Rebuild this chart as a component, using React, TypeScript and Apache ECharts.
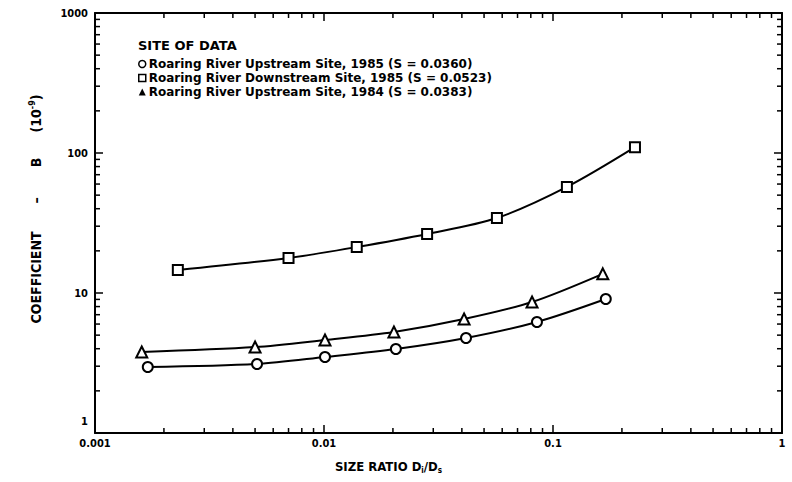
import React, { useEffect, useRef } from "react";
import * as echarts from "echarts";

const xTickValues = [0.001, 0.01, 0.1, 1];
const xTickLabels = ["0.001", "0.01", "0.1", "1"];
const yTickValues = [1, 10, 100, 1000];
const yTickLabels = ["1", "10", "100", "1000"];

const xMinorTicks = [
  0.002, 0.003, 0.004, 0.005, 0.006, 0.007, 0.008, 0.009,
  0.02, 0.03, 0.04, 0.05, 0.06, 0.07, 0.08, 0.09,
  0.2, 0.3, 0.4, 0.5, 0.6, 0.7, 0.8, 0.9,
];
const yMinorTicks = [
  2, 3, 4, 5, 6, 7, 8, 9,
  20, 30, 40, 50, 60, 70, 80, 90,
  200, 300, 400, 500, 600, 700, 800, 900,
];

const seriesNames = [
  "Roaring River Upstream Site, 1985 (S = 0.0360)",
  "Roaring River Downstream Site, 1985 (S = 0.0523)",
  "Roaring River Upstream Site, 1984 (S = 0.0383)",
];

const up1985X = [0.0017, 0.0051, 0.0101, 0.0206, 0.0417, 0.0851, 0.17];
const up1985Y = [2.96, 3.11, 3.49, 3.98, 4.77, 6.21, 9.06];
const down1985X = [0.0023, 0.007, 0.0139, 0.0282, 0.0569, 0.115, 0.228];
const down1985Y = [14.6, 17.8, 21.3, 26.4, 34.3, 57.2, 110];
const up1984X = [0.0016, 0.005, 0.0101, 0.0202, 0.0409, 0.081, 0.165];
const up1984Y = [3.79, 4.11, 4.62, 5.27, 6.52, 8.62, 13.7];

const FONT = "DejaVu Sans";
const FONT_C = "DejaVu Sans Condensed, DejaVu Sans";

function zip(xs: number[], ys: number[]) {
  return xs.map((x, i) => [x, ys[i]]);
}

function labelIndex(values: number[], v: number) {
  let best = 0;
  let bd = Infinity;
  values.forEach((t, i) => {
    const d = Math.abs(Math.log10(t) - Math.log10(v));
    if (d < bd) {
      bd = d;
      best = i;
    }
  });
  return bd < 0.01 ? best : -1;
}

export default function App() {
  const ref = useRef<HTMLDivElement>(null);
  useEffect(() => {
    if (!ref.current) return;
    const chart = echarts.init(ref.current, undefined, { renderer: "svg" });
    const xMin = xTickValues[0];
    const xMax = xTickValues[xTickValues.length - 1];
    const yMin = yTickValues[0];
    const yMax = yTickValues[yTickValues.length - 1];
    const lineSeries = (name: string, data: number[][], symbol: string) => ({
      name,
      type: "line",
      data,
      smooth: 0.3,
      symbol,
      symbolSize: symbol === "triangle" ? 11 : 10,
      showSymbol: true,
      lineStyle: { color: "#000", width: 2 },
      itemStyle: { color: "#fff", borderColor: "#000", borderWidth: 2 },
      xAxisIndex: 0,
      yAxisIndex: 0,
      z: 3,
    });
    const tickStyle = { stroke: "#000", lineWidth: 1.5 };
    const labelFont = { fontFamily: FONT_C, fontWeight: "bold", fontSize: 11, color: "#000" };
    const option: any = {
      animation: false,
      backgroundColor: "#fff",
      title: {
        text: "SITE OF DATA",
        left: 133,
        top: 34,
        textStyle: { fontFamily: FONT, fontWeight: "bold", fontSize: 13, color: "#000" },
      },
      legend: {
        orient: "vertical",
        left: 133,
        top: 52,
        itemWidth: 7,
        itemHeight: 7,
        itemGap: 0,
        selectedMode: false,
        textStyle: {
          fontFamily: FONT,
          fontWeight: "bold",
          fontSize: 12,
          color: "#000",
          lineHeight: 14,
          padding: [0, 0, 0, -2],
        },
        data: [
          { name: seriesNames[0], icon: "circle", itemStyle: { color: "#fff", borderColor: "#000", borderWidth: 1.5 } },
          { name: seriesNames[1], icon: "rect", itemStyle: { color: "#fff", borderColor: "#000", borderWidth: 1.5 } },
          { name: seriesNames[2], icon: "triangle", itemStyle: { color: "#000", borderColor: "#000", borderWidth: 0 } },
        ],
      },
      grid: { left: 95, top: 13, width: 687, height: 420, containLabel: false },
      xAxis: [
        {
          type: "log",
          logBase: 10,
          min: xMin,
          max: xMax,
          position: "bottom",
          name: "SIZE RATIO D{sub|i}/D{sub|s}",
          nameLocation: "middle",
          nameGap: 25,
          nameTextStyle: {
            fontFamily: FONT_C,
            fontWeight: "bold",
            fontSize: 13,
            color: "#000",
            lineHeight: 16,
            padding: [0, 100, 0, 0],
            rich: { sub: { fontFamily: FONT_C, fontWeight: "bold", fontSize: 8, verticalAlign: "bottom", lineHeight: 16, color: "#000" } },
          },
          axisLine: { show: true, lineStyle: { color: "#000", width: 2 } },
          axisTick: { show: true, inside: true, length: 8, lineStyle: { color: "#000", width: 1.5 } },
          axisLabel: {
            show: true,
            margin: 5,
            ...labelFont,
            formatter: (v: number) => {
              const i = labelIndex(xTickValues, v);
              return i < 0 ? "" : xTickLabels[i];
            },
          },
          splitLine: { show: false },
        },
        {
          type: "log",
          logBase: 10,
          min: xMin,
          max: xMax,
          position: "top",
          axisLine: { show: true, lineStyle: { color: "#000", width: 2 } },
          axisTick: { show: true, inside: true, length: 8, lineStyle: { color: "#000", width: 1.5 } },
          axisLabel: { show: false },
          splitLine: { show: false },
        },
      ],
      yAxis: [
        {
          type: "log",
          logBase: 10,
          min: yMin,
          max: yMax,
          position: "left",
          name: "COEFFICIENT{d|–}{b|B}(10{sup|-9})",
          nameLocation: "middle",
          nameGap: 50,
          nameRotate: 90,
          nameTextStyle: {
            fontFamily: FONT_C,
            fontWeight: "bold",
            fontSize: 14,
            color: "#000",
            lineHeight: 18,
            padding: [0, 0, 0, 28],
            rich: {
              d: { fontFamily: FONT_C, fontWeight: "bold", fontSize: 14, lineHeight: 18, color: "#000", padding: [0, 30, 0, 28] },
              b: { fontFamily: FONT_C, fontWeight: "bold", fontSize: 14, lineHeight: 18, color: "#000", padding: [0, 25, 0, 0] },
              sup: { fontFamily: FONT_C, fontWeight: "bold", fontSize: 9, verticalAlign: "top", lineHeight: 18, color: "#000" },
            },
          },
          axisLine: { show: true, lineStyle: { color: "#000", width: 2 } },
          axisTick: { show: true, inside: true, length: 8, lineStyle: { color: "#000", width: 1.5 } },
          axisLabel: {
            show: true,
            margin: 7,
            ...labelFont,
            formatter: (v: number) => {
              const i = labelIndex(yTickValues, v);
              if (i < 0) return "";
              return i === 0 ? "{lo|" + yTickLabels[i] + "}" : yTickLabels[i];
            },
            rich: {
              lo: { ...labelFont, padding: [0, 0, 24, 0] },
            },
          },
          splitLine: { show: false },
        },
        {
          type: "log",
          logBase: 10,
          min: yMin,
          max: yMax,
          position: "right",
          axisLine: { show: true, lineStyle: { color: "#000", width: 2 } },
          axisTick: { show: true, inside: true, length: 8, lineStyle: { color: "#000", width: 1.5 } },
          axisLabel: { show: false },
          splitLine: { show: false },
        },
      ],
      series: [
        lineSeries(seriesNames[0], zip(up1985X, up1985Y), "circle"),
        lineSeries(seriesNames[1], zip(down1985X, down1985Y), "rect"),
        lineSeries(seriesNames[2], zip(up1984X, up1984Y), "triangle"),
        {
          name: "xMinor",
          type: "custom",
          xAxisIndex: 0,
          yAxisIndex: 0,
          silent: true,
          clip: false,
          data: xMinorTicks.map((v) => [v, yMin]),
          renderItem: (_p: any, api: any) => {
            const v = api.value(0);
            const b = api.coord([v, yMin]);
            const t = api.coord([v, yMax]);
            return {
              type: "group",
              children: [
                { type: "line", shape: { x1: b[0], y1: b[1], x2: b[0], y2: b[1] - 5 }, style: tickStyle },
                { type: "line", shape: { x1: t[0], y1: t[1], x2: t[0], y2: t[1] + 5 }, style: tickStyle },
              ],
            };
          },
        },
        {
          name: "yMinor",
          type: "custom",
          xAxisIndex: 0,
          yAxisIndex: 0,
          silent: true,
          clip: false,
          data: yMinorTicks.map((v) => [xMin, v]),
          renderItem: (_p: any, api: any) => {
            const v = api.value(1);
            const l = api.coord([xMin, v]);
            const r = api.coord([xMax, v]);
            return {
              type: "group",
              children: [
                { type: "line", shape: { x1: l[0], y1: l[1], x2: l[0] + 5, y2: l[1] }, style: tickStyle },
                { type: "line", shape: { x1: r[0], y1: r[1], x2: r[0] - 5, y2: r[1] }, style: tickStyle },
              ],
            };
          },
        },
      ],
    };
    chart.setOption(option);
    return () => chart.dispose();
  }, []);
  return (
    <div
      ref={ref}
      style={{ position: "fixed", left: 0, top: 0, width: 792, height: 482, background: "#fff" }}
    />
  );
}
